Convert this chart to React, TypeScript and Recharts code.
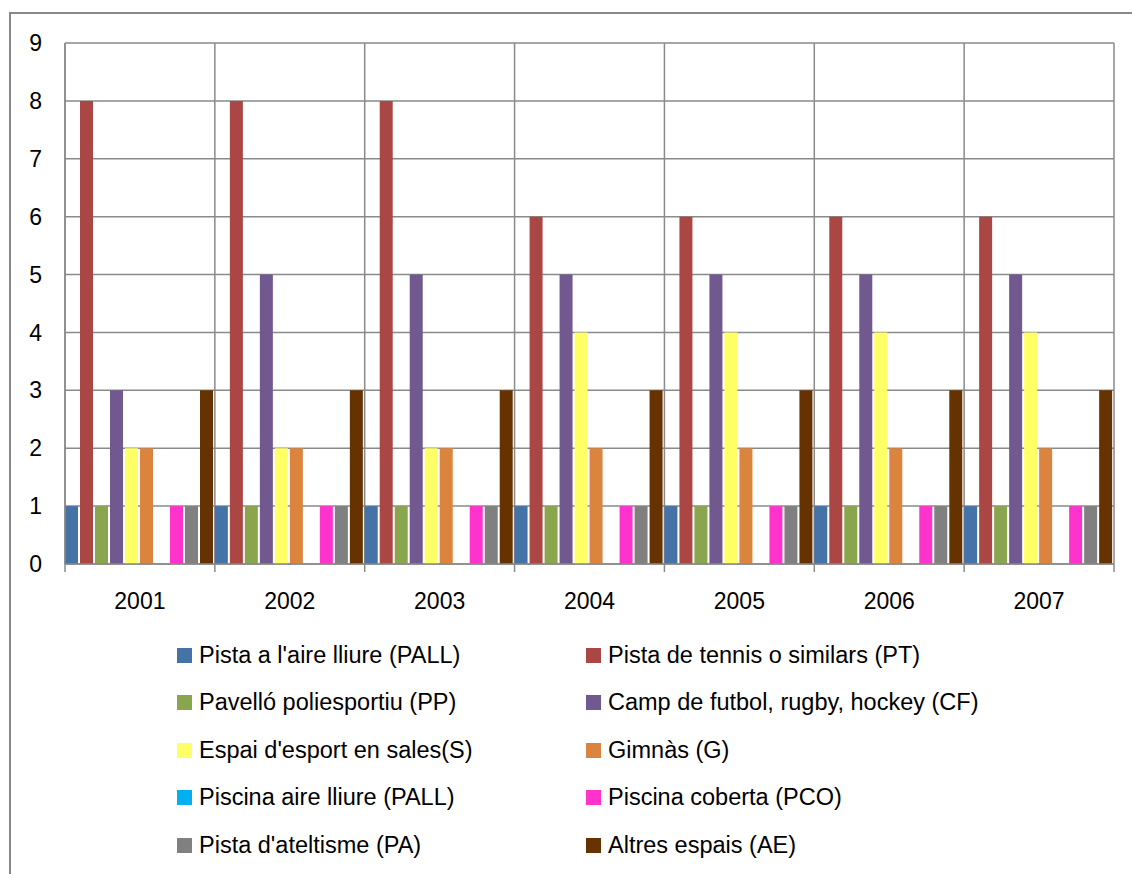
import { BarChart, Bar, XAxis, YAxis, CartesianGrid } from 'recharts'

const years = ['2001', '2002', '2003', '2004', '2005', '2006', '2007']

const pistaAireLliure = [1, 1, 1, 1, 1, 1, 1]
const pistaTennis = [8, 8, 8, 6, 6, 6, 6]
const pavello = [1, 1, 1, 1, 1, 1, 1]
const campFutbol = [3, 5, 5, 5, 5, 5, 5]
const espaiSales = [2, 2, 2, 4, 4, 4, 4]
const gimnas = [2, 2, 2, 2, 2, 2, 2]
const piscinaAire = [0, 0, 0, 0, 0, 0, 0]
const piscinaCoberta = [1, 1, 1, 1, 1, 1, 1]
const pistaAtletisme = [1, 1, 1, 1, 1, 1, 1]
const altresEspais = [3, 3, 3, 3, 3, 3, 3]

const yTicks = [0, 1, 2, 3, 4, 5, 6, 7, 8, 9]

const series = [
  { key: 'pall', name: "Pista a l'aire lliure (PALL)", values: pistaAireLliure, color: '#4572A7' },
  { key: 'pt', name: 'Pista de tennis o similars (PT)', values: pistaTennis, color: '#AA4643' },
  { key: 'pp', name: 'Pavelló poliesportiu (PP)', values: pavello, color: '#89A54E' },
  { key: 'cf', name: 'Camp de futbol, rugby, hockey (CF)', values: campFutbol, color: '#71588F' },
  { key: 's', name: "Espai d'esport en sales(S)", values: espaiSales, color: '#FFFF66' },
  { key: 'g', name: 'Gimnàs (G)', values: gimnas, color: '#DB843D' },
  { key: 'pal', name: 'Piscina aire lliure (PALL)', values: piscinaAire, color: '#00B0F0' },
  { key: 'pco', name: 'Piscina coberta (PCO)', values: piscinaCoberta, color: '#FF33CC' },
  { key: 'pa', name: "Pista d'ateltisme (PA)", values: pistaAtletisme, color: '#808080' },
  { key: 'ae', name: 'Altres espais (AE)', values: altresEspais, color: '#663300' },
]

const data = years.map((year, i) => {
  const row: Record<string, string | number> = { year }
  series.forEach((s) => {
    row[s.key] = s.values[i]
  })
  return row
})

const W = 1132
const H = 874
const LEFT = 65
const RIGHT = 18
const TOP = 43
const BOTTOM = 310
const CAT_W = (W - LEFT - RIGHT) / years.length
const GRID = '#8a8a8a'
const FONT = '"Liberation Sans", Arial, sans-serif'

const YearTick = (props: any) => {
  const { x, y, payload, index } = props
  return (
    <g>
      <line x1={x - CAT_W / 2} x2={x - CAT_W / 2} y1={y} y2={y + 8} stroke={GRID} strokeWidth={1.5} />
      {index === years.length - 1 && (
        <line x1={x + CAT_W / 2} x2={x + CAT_W / 2} y1={y} y2={y + 8} stroke={GRID} strokeWidth={1.5} />
      )}
      <text x={x} y={y + 45} textAnchor="middle" fill="#000" fontSize={23} fontFamily={FONT}>
        {payload.value}
      </text>
    </g>
  )
}

export default function App() {
  return (
    <div style={{ position: 'absolute', left: 0, top: 0, width: W, height: H, background: '#fff', overflow: 'hidden' }}>
      <div
        style={{
          position: 'absolute',
          left: 9,
          top: 12,
          width: W - 9,
          height: H - 12,
          borderTop: '2px solid #888',
          borderLeft: '2px solid #888',
        }}
      />
      <div style={{ position: 'absolute', left: 0, top: 0 }}>
        <BarChart
          width={W}
          height={H}
          data={data}
          margin={{ top: TOP, right: RIGHT, bottom: BOTTOM - 60, left: 0 }}
          barCategoryGap={0}
          barGap={2}
        >
          <CartesianGrid
            stroke={GRID}
            strokeWidth={1.5}
            verticalCoordinatesGenerator={({ offset }: any) =>
              years.map((_, i) => offset.left + (i * offset.width) / years.length).concat(offset.left + offset.width)
            }
          />
          <XAxis
            dataKey="year"
            height={60}
            tickLine={false}
            tickSize={0}
            tickMargin={0}
            axisLine={{ stroke: GRID, strokeWidth: 1.5 }}
            tick={<YearTick />}
            interval={0}
          />
          <YAxis
            width={LEFT}
            domain={[0, 9]}
            ticks={yTicks}
            interval={0}
            axisLine={{ stroke: GRID, strokeWidth: 1.5 }}
            tickLine={false}
            tickSize={0}
            tickMargin={23}
            tick={{ fill: '#000', fontSize: 23, fontFamily: FONT }}
          />
          {series.map((s) => (
            <Bar key={s.key} dataKey={s.key} name={s.name} fill={s.color} isAnimationActive={false} />
          ))}
        </BarChart>
      </div>
      {series.map((s, i) => {
        const col = i % 2
        const row = Math.floor(i / 2)
        return (
          <div
            key={s.key}
            style={{
              position: 'absolute',
              left: col === 0 ? 177 : 586,
              top: 655 + row * 47.5 - 14,
              height: 28,
              display: 'flex',
              alignItems: 'center',
              fontFamily: FONT,
              fontSize: 23.5,
              color: '#000',
              whiteSpace: 'nowrap',
            }}
          >
            <span style={{ display: 'inline-block', width: 15, height: 15, background: s.color, marginRight: 7 }} />
            <span>{s.name}</span>
          </div>
        )
      })}
    </div>
  )
}
